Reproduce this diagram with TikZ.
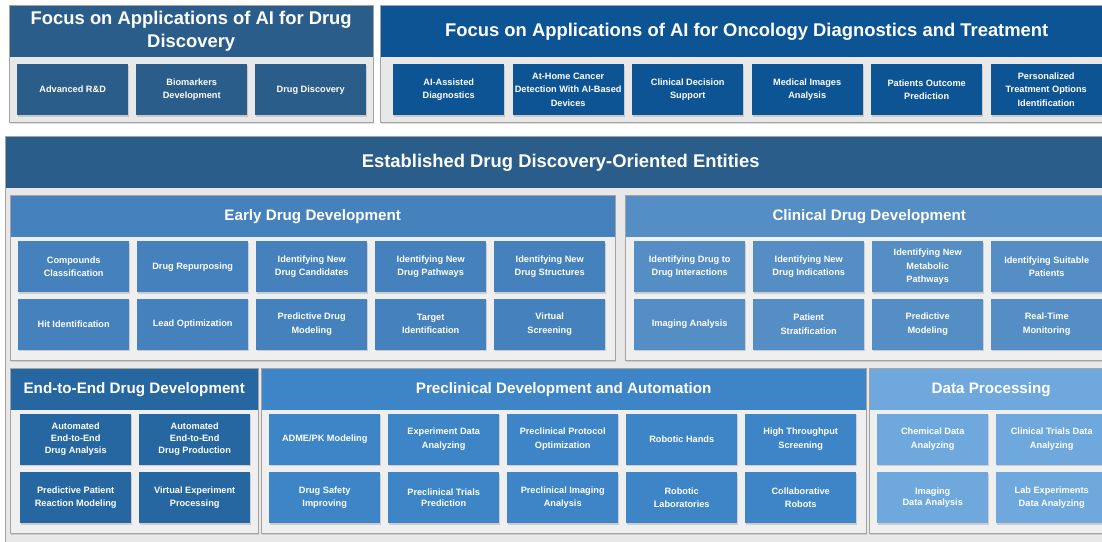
\documentclass[tikz,border=0pt]{standalone}
\usepackage{fontspec}
\setmainfont{Liberation Sans}
\usetikzlibrary{shadows}
\definecolor{cTL}{HTML}{2B5D8A}
\definecolor{cTR}{HTML}{0D5494}
\definecolor{cBig}{HTML}{2B5D8A}
\definecolor{cEarly}{HTML}{4582BD}
\definecolor{cClin}{HTML}{548EC5}
\definecolor{cEnd}{HTML}{2767A1}
\definecolor{cPre}{HTML}{3D85C6}
\definecolor{cData}{HTML}{6FA8DC}
\definecolor{cBorder}{HTML}{A3A3A3}
\definecolor{cBody}{HTML}{E8E8E8}
\definecolor{cSub}{HTML}{EFEFEF}
\tikzset{
  cell/.style={anchor=north west, minimum width=111pt, minimum height=51pt, inner sep=1pt,
    align=center, text=white, font=\bfseries\fontsize{9.2}{13.2}\selectfont,
    drop shadow={opacity=0.3, shadow xshift=0.8pt, shadow yshift=-1.3pt}},
  tight/.style={font=\bfseries\fontsize{9.2}{11.7}\selectfont},
  panel/.style={draw=cBorder, line width=0.8pt, fill=cBody,
    drop shadow={opacity=0.25, shadow xshift=1pt, shadow yshift=-1.5pt}},
  subpanel/.style={draw=cBorder, line width=0.8pt, fill=cSub,
    drop shadow={opacity=0.25, shadow xshift=1pt, shadow yshift=-1.5pt}},
  hdr/.style={anchor=north west, inner sep=0pt, text=white, align=center,
    font=\bfseries\fontsize{15.2}{18}\selectfont},
  bighdr/.style={hdr, font=\bfseries\fontsize{18.4}{23}\selectfont},
}
\begin{document}
\begin{tikzpicture}[x=1pt,y=-1pt]
\useasboundingbox (0,0) rectangle (1102,541);
\clip (0,0) rectangle (1102,541);
\fill[white] (0,0) rectangle (1102,541);

% ---------- top-left panel
\draw[panel] (9,5) rectangle (373,122);
\node[bighdr, fill=cTL, minimum width=363.2pt, minimum height=51.6pt] (tlh) at (9.4,5.4)
  {Focus on Applications of AI for Drug\\Discovery};
\node[cell, fill=cTL] (tl1) at (17,64) {Advanced R\&D};
\node[cell, fill=cTL] (tl2) at (136,64) {Biomarkers\\Development};
\node[cell, fill=cTL] (tl3) at (255,64) {Drug Discovery};

% ---------- top-right panel
\draw[panel] (380,5) rectangle (1113,122);
\node[bighdr, fill=cTR, minimum width=732.2pt, minimum height=51.6pt] (trh) at (380.4,5.4)
  {Focus on Applications of AI for Oncology Diagnostics and Treatment};
\node[cell, fill=cTR] (tr1) at (393,64) {AI-Assisted\\Diagnostics};
\node[cell, fill=cTR] (tr2) at (512.5,64) {At-Home Cancer\\Detection With AI-Based\\Devices};
\node[cell, fill=cTR] (tr3) at (632,64) {Clinical Decision\\Support};
\node[cell, fill=cTR] (tr4) at (751.5,64) {Medical Images\\Analysis};
\node[cell, fill=cTR] (tr5) at (871,64) {Patients Outcome\\Prediction};
\node[cell, fill=cTR] (tr6) at (990.5,64) {Personalized\\Treatment Options\\Identification};

% ---------- big panel
\draw[panel] (5,136) rectangle (1116,548);
\node[bighdr, fill=cBig, minimum width=1110.2pt, minimum height=51.6pt] (bigh) at (5.4,136.4)
  {Established Drug Discovery-Oriented Entities};

% ---------- early drug development
\draw[subpanel] (10,195) rectangle (615,360);
\node[hdr, fill=cEarly, minimum width=604.2pt, minimum height=41pt] (earlyh) at (10.4,195.4)
  {Early Drug Development};
\node[cell, fill=cEarly] (e1) at (18,241) {Compounds\\Classification};
\node[cell, fill=cEarly] (e2) at (137,241) {Drug Repurposing};
\node[cell, fill=cEarly] (e3) at (256,241) {Identifying New\\Drug Candidates};
\node[cell, fill=cEarly] (e4) at (375,241) {Identifying New\\Drug Pathways};
\node[cell, fill=cEarly] (e5) at (494,241) {Identifying New\\Drug Structures};
\node[cell, fill=cEarly] (e6) at (18,298.5) {Hit Identification};
\node[cell, fill=cEarly] (e7) at (137,298.5) {Lead Optimization};
\node[cell, fill=cEarly] (e8) at (256,298.5) {Predictive Drug\\Modeling};
\node[cell, fill=cEarly] (e9) at (375,298.5) {Target\\Identification};
\node[cell, fill=cEarly] (e10) at (494,298.5) {Virtual\\Screening};

% ---------- clinical drug development
\draw[subpanel] (625,195) rectangle (1113,360);
\node[hdr, fill=cClin, minimum width=487.2pt, minimum height=41pt] (clinh) at (625.4,195.4)
  {Clinical Drug Development};
\node[cell, fill=cClin] (c1) at (634,241) {Identifying Drug to\\Drug Interactions};
\node[cell, fill=cClin] (c2) at (753,241) {Identifying New\\Drug Indications};
\node[cell, fill=cClin] (c3) at (872,241) {Identifying New\\Metabolic\\Pathways};
\node[cell, fill=cClin] (c4) at (991,241) {Identifying Suitable\\Patients};
\node[cell, fill=cClin] (c5) at (634,298.5) {Imaging Analysis};
\node[cell, fill=cClin] (c6) at (753,298.5) {Patient\\Stratification};
\node[cell, fill=cClin] (c7) at (872,298.5) {Predictive\\Modeling};
\node[cell, fill=cClin] (c8) at (991,298.5) {Real-Time\\Monitoring};

% ---------- end-to-end
\draw[subpanel] (10,368) rectangle (258,533);
\node[hdr, fill=cEnd, minimum width=247.2pt, minimum height=41pt] (endh) at (10.4,368.4)
  {End-to-End Drug Development};
\node[cell, tight, fill=cEnd] (d1) at (20,413.5) {Automated\\End-to-End\\Drug Analysis};
\node[cell, tight, fill=cEnd] (d2) at (139,413.5) {Automated\\End-to-End\\Drug Production};
\node[cell, fill=cEnd] (d3) at (20,472) {Predictive Patient\\Reaction Modeling};
\node[cell, fill=cEnd] (d4) at (139,472) {Virtual Experiment\\Processing};

% ---------- preclinical
\draw[subpanel] (261,368) rectangle (866,533);
\node[hdr, fill=cPre, minimum width=604.2pt, minimum height=41pt] (preh) at (261.4,368.4)
  {Preclinical Development and Automation};
\node[cell, fill=cPre] (p1) at (269,413.5) {ADME/PK Modeling};
\node[cell, fill=cPre] (p2) at (388,413.5) {Experiment Data\\Analyzing};
\node[cell, fill=cPre] (p3) at (507,413.5) {Preclinical Protocol\\Optimization};
\node[cell, fill=cPre] (p4) at (626,413.5) {Robotic Hands};
\node[cell, fill=cPre] (p5) at (745,413.5) {High Throughput\\Screening};
\node[cell, fill=cPre] (p6) at (269,472) {Drug Safety\\Improving};
\node[cell, tight, fill=cPre] (p7) at (388,472) {Preclinical Trials\\Prediction};
\node[cell, fill=cPre] (p8) at (507,472) {Preclinical Imaging\\Analysis};
\node[cell, fill=cPre] (p9) at (626,472) {Robotic\\Laboratories};
\node[cell, fill=cPre] (p10) at (745,472) {Collaborative\\Robots};

% ---------- data processing
\draw[subpanel] (869,368) rectangle (1113,533);
\node[hdr, fill=cData, minimum width=243.2pt, minimum height=41pt] (datah) at (869.4,368.4)
  {Data Processing};
\node[cell, fill=cData] (dp1) at (877,413.5) {Chemical Data\\Analyzing};
\node[cell, fill=cData] (dp2) at (996,413.5) {Clinical Trials Data\\Analyzing};
\node[cell, tight, fill=cData] (dp3) at (877,472) {Imaging\\Data Analysis};
\node[cell, fill=cData] (dp4) at (996,472) {Lab Experiments\\Data Analyzing};
\end{tikzpicture}
\end{document}
